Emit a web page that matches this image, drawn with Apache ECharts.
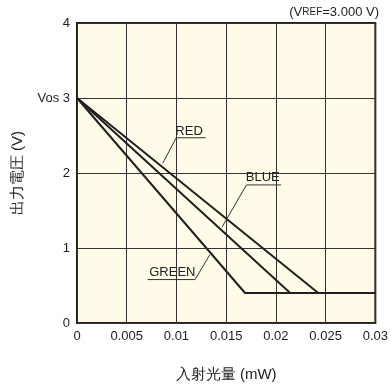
<!DOCTYPE html>
<html>
<head>
<meta charset="utf-8">
<script src="https://cdn.jsdelivr.net/npm/echarts@6/dist/echarts.min.js"></script>
<style>
  html, body { margin: 0; padding: 0; background: #fff; }
  #chart { width: 391px; height: 387px; }
</style>
</head>
<body>
<div id="chart"></div>
<script>
// curve data: [incident light (mW), output voltage (V)]
const redData = [[0, 3], [0.02426, 0.4], [0.03, 0.4]]
const blueData = [[0, 3], [0.02144, 0.4], [0.03, 0.4]]
const greenData = [[0, 3], [0.0169, 0.4], [0.03, 0.4]]

const xTickLabels = ['0', '0.005', '0.01', '0.015', '0.02', '0.025', '0.03']
const yTickLabels = ['0', '1', '2', 'Vos 3', '4']

// callout leaders (underline + pointer), in data coords
const redLeader = [[0.01296, 2.47], [0.00998, 2.47], [0.00862, 2.13]]
const blueLeader = [[0.02051, 1.841], [0.01704, 1.841], [0.01458, 1.279]]
const greenLeader = [[0.0071, 0.579], [0.01187, 0.579], [0.01336, 0.911]]

// callout text anchors
const calloutNames = ['RED', 'BLUE', 'GREEN']
const calloutPos = [[0.01127, 2.558], [0.01868, 1.939], [0.00959, 0.681]]

const ink = '#231f20'
const font = '"Liberation Sans", Arial, sans-serif'

const chart = echarts.init(document.getElementById('chart'))

function curve(name, data) {
  return {
    name: name,
    type: 'line',
    data: data,
    symbol: 'none',
    silent: true,
    z: 3,
    lineStyle: { color: ink, width: 2 }
  }
}

function leader(data) {
  return {
    type: 'line',
    data: data,
    symbol: 'none',
    silent: true,
    z: 4,
    lineStyle: { color: '#333', width: 1 }
  }
}

const option = {
  animation: false,
  grid: {
    left: 77,
    right: 12,
    top: 23,
    bottom: 62,
    show: true,
    backgroundColor: '#fffbe8',
    borderColor: ink,
    borderWidth: 2
  },
  xAxis: {
    type: 'value',
    min: 0,
    max: 0.03,
    interval: 0.005,
    name: '入射光量 (mW)',
    nameLocation: 'middle',
    nameGap: 44,
    nameTextStyle: { color: '#222', fontSize: 15, fontFamily: font },
    axisLine: { show: false },
    axisTick: { show: false },
    axisLabel: {
      color: '#222',
      fontSize: 13,
      fontFamily: font,
      margin: 7,
      formatter: (v) => xTickLabels[Math.round(v / 0.005)]
    },
    splitLine: { lineStyle: { color: '#333', width: 1 } }
  },
  yAxis: {
    type: 'value',
    min: 0,
    max: 4,
    interval: 1,
    name: '出力電圧 (V)',
    nameLocation: 'middle',
    nameGap: 52,
    nameRotate: 90,
    nameTextStyle: { color: '#222', fontSize: 15, fontFamily: font },
    axisLine: { show: false },
    axisTick: { show: false },
    axisLabel: {
      color: '#222',
      fontSize: 13,
      fontFamily: font,
      margin: 7,
      formatter: (v) => yTickLabels[Math.round(v)]
    },
    splitLine: { lineStyle: { color: '#333', width: 1 } }
  },
  series: [
    curve('RED', redData),
    curve('BLUE', blueData),
    curve('GREEN', greenData),
    leader(redLeader),
    leader(blueLeader),
    leader(greenLeader)
  ]
}

chart.setOption(option)

const texts = calloutNames.map((name, i) => {
  const p = chart.convertToPixel({ gridIndex: 0 }, calloutPos[i])
  return {
    type: 'text',
    x: p[0],
    y: p[1],
    z: 10,
    style: {
      text: name,
      fill: '#222',
      font: '13px ' + font,
      align: 'center',
      verticalAlign: 'middle'
    }
  }
})

texts.push({
  type: 'text',
  right: 12,
  top: 6,
  style: {
    text: '{a|(V}{b|REF}{a|=3.000 V)}',
    fill: '#222',
    rich: {
      a: { fontSize: 13, fontFamily: font, fill: '#222' },
      b: { fontSize: 10, fontFamily: font, fill: '#222' }
    }
  }
})

chart.setOption({ graphic: texts })
</script>
</body>
</html>
